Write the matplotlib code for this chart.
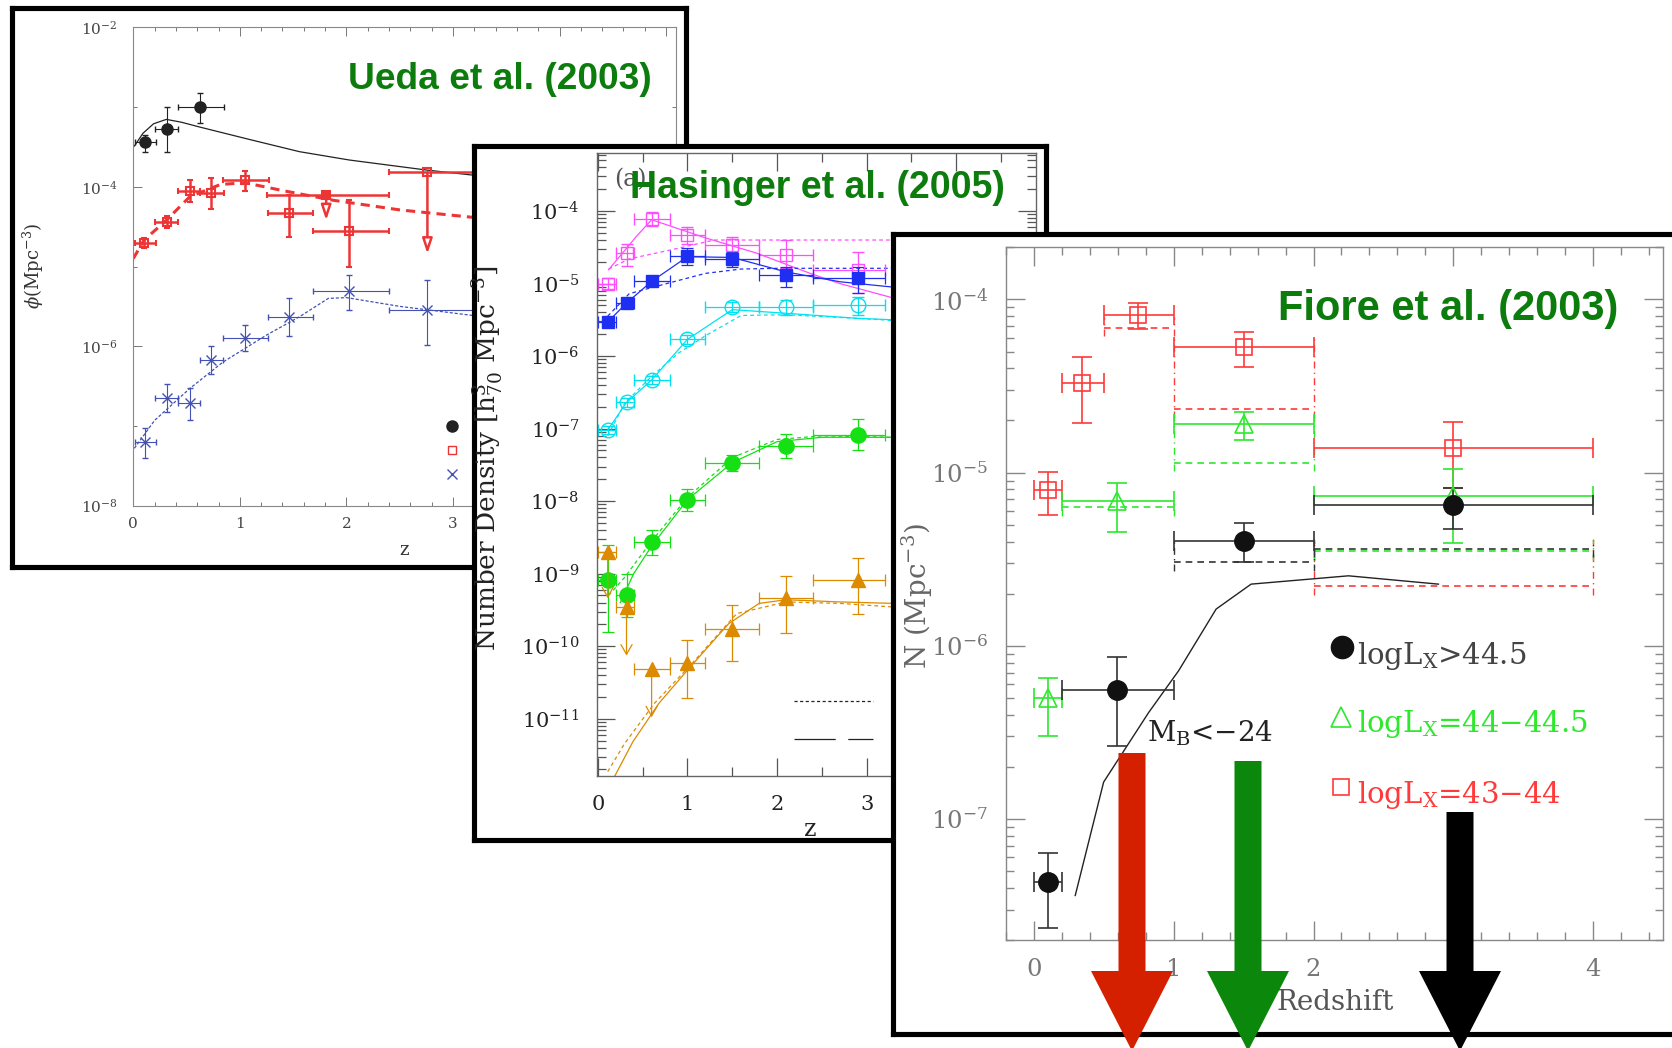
import numpy as np
import matplotlib
matplotlib.use('Agg')
import matplotlib.pyplot as plt
from matplotlib.ticker import FixedLocator, NullFormatter, MultipleLocator, LogLocator
from matplotlib.patches import FancyArrow

W, H = 1672, 1048
plt.rcParams['font.family'] = 'DejaVu Serif'
plt.rcParams['mathtext.fontset'] = 'dejavuserif'

# ---------------- Ueda et al. (2003) ----------------
u_hi_z = [0.11, 0.32, 0.63]
u_hi_zlo = [0.02, 0.20, 0.42]
u_hi_zhi = [0.21, 0.42, 0.85]
u_hi_lg = [-3.435, -3.27, -3.00]
u_hi_lo = [-3.57, -3.56, -3.20]
u_hi_up = [-3.35, -3.00, -2.82]

u_mid_z = [0.10, 0.32, 0.53, 0.73, 1.05, 1.465, 2.02]
u_mid_zlo = [0.02, 0.20, 0.42, 0.63, 0.84, 1.26, 1.69]
u_mid_zhi = [0.21, 0.42, 0.63, 0.85, 1.27, 1.69, 2.40]
u_mid_lg = [-4.71, -4.44, -4.05, -4.075, -3.92, -4.33, -4.55]
u_mid_lo = [-4.77, -4.515, -4.19, -4.28, -4.05, -4.635, -5.00]
u_mid_up = [-4.645, -4.37, -3.915, -3.89, -3.80, -4.10, -4.17]

u_lim_z = [1.81, 2.76]
u_lim_zlo = [1.25, 2.40]
u_lim_zhi = [2.40, 3.20]
u_lim_lg = [-4.10, -3.82]
u_lim_to = [-4.42, -4.84]
u_lim_filled = [True, False]

u_lo_z = [0.113, 0.32, 0.53, 0.73, 1.05, 1.465, 2.02, 2.76]
u_lo_zlo = [0.02, 0.20, 0.42, 0.63, 0.84, 1.26, 1.69, 2.40]
u_lo_zhi = [0.21, 0.42, 0.63, 0.84, 1.26, 1.69, 2.40, 3.20]
u_lo_lg = [-7.207, -6.65, -6.71, -6.17, -5.90, -5.63, -5.31, -5.55]
u_lo_lo = [-7.40, -6.82, -6.92, -6.35, -6.06, -5.87, -5.54, -5.99]
u_lo_up = [-7.03, -6.475, -6.53, -6.00, -5.735, -5.40, -5.11, -5.17]

u_hi_curve_z = [0.01, 0.09, 0.19, 0.31, 0.45, 0.62, 1.10, 1.56, 2.03, 2.75, 3.16, 3.40]
u_hi_curve_lg = [-3.49, -3.33, -3.21, -3.155, -3.19, -3.25, -3.41, -3.56, -3.665, -3.79, -3.85, -3.88]
u_mid_curve_z = [0.0, 0.10, 0.31, 0.53, 0.82, 1.05, 1.41, 1.88, 2.50, 3.16, 3.40]
u_mid_curve_lg = [-4.90, -4.67, -4.42, -4.125, -3.97, -3.95, -4.05, -4.17, -4.29, -4.38, -4.41]
u_lo_curve_z = [0.01, 0.20, 0.53, 0.84, 1.25, 1.56, 1.83, 2.00, 2.50, 3.16, 3.40]
u_lo_curve_lg = [-7.28, -6.93, -6.53, -6.20, -5.86, -5.63, -5.40, -5.39, -5.50, -5.61, -5.64]

# ---------------- Hasinger et al. (2005) ----------------
h_z = [0.11, 0.32, 0.60, 1.00, 1.50, 2.10, 2.90]
h_zlo = [0.0, 0.2, 0.4, 0.8, 1.2, 1.8, 2.4]
h_zhi = [0.2, 0.4, 0.8, 1.2, 1.8, 2.4, 3.2]

h_mag_lg = [-5.00, -4.58, -4.11, -4.33, -4.47, -4.61, -4.81]
h_mag_lo = [-5.07, -4.76, -4.21, -4.455, -4.585, -4.79, -5.135]
h_mag_up = [-4.93, -4.45, -4.01, -4.225, -4.355, -4.40, -4.56]
h_blu_lg = [-5.53, -5.27, -4.97, -4.62, -4.66, -4.88, -4.92]
h_blu_lo = [-5.58, -5.32, -5.02, -4.745, -4.77, -5.044, -5.136]
h_blu_up = [-5.48, -5.22, -4.92, -4.515, -4.56, -4.77, -4.77]
h_cyn_lg = [-7.02, -6.64, -6.33, -5.77, -5.32, -5.32, -5.30]
h_cyn_lo = [-7.08, -6.70, -6.39, -5.83, -5.39, -5.434, -5.434]
h_cyn_up = [-6.96, -6.58, -6.27, -5.71, -5.25, -5.228, -5.18]
h_grn_lg = [-9.09, -9.30, -8.57, -7.98, -7.47, -7.24, -7.09]
h_grn_lo = [-9.80, -9.60, -8.74, -8.13, -7.58, -7.40, -7.30]
h_grn_up = [-8.60, -9.00, -8.40, -7.83, -7.36, -7.07, -6.87]

h_org_z = [1.00, 1.50, 2.10, 2.90]
h_org_zlo = [0.8, 1.2, 1.8, 2.4]
h_org_zhi = [1.2, 1.8, 2.4, 3.2]
h_org_lg = [-10.23, -9.76, -9.34, -9.09]
h_org_lo = [-10.71, -10.21, -9.82, -9.56]
h_org_up = [-9.92, -9.43, -9.03, -8.78]
h_orglim_z = [0.11, 0.32, 0.60]
h_orglim_zlo = [0.0, 0.2, 0.4]
h_orglim_zhi = [0.2, 0.4, 0.8]
h_orglim_lg = [-8.70, -9.46, -10.32]
h_orglim_to = [-9.34, -10.13, -10.98]

h_mag_solid_z = [0.12, 0.43, 0.60, 1.20, 1.77, 2.37, 2.70, 3.30]
h_mag_solid_lg = [-4.81, -4.35, -4.12, -4.37, -4.58, -4.86, -5.00, -5.20]
h_mag_dash_z = [0.12, 0.35, 0.80, 1.30, 1.80, 2.40, 3.30]
h_mag_dash_lg = [-4.80, -4.66, -4.54, -4.40, -4.40, -4.40, -4.40]
h_blu_solid_z = [0.11, 0.32, 0.60, 1.00, 1.50, 2.10, 2.70, 3.30]
h_blu_solid_lg = [-5.53, -5.27, -4.97, -4.63, -4.64, -4.84, -4.975, -5.05]
h_blu_dash_z = [0.11, 0.35, 0.80, 1.20, 1.60, 2.00, 3.30]
h_blu_dash_lg = [-5.45, -5.14, -4.99, -4.86, -4.80, -4.79, -4.79]
h_cyn_solid_z = [0.11, 0.32, 0.60, 1.00, 1.50, 2.10, 2.90, 3.30]
h_cyn_solid_lg = [-7.02, -6.64, -6.33, -5.77, -5.36, -5.41, -5.48, -5.50]
h_cyn_dash_z = [0.11, 0.30, 0.60, 0.90, 1.20, 1.60, 2.10, 2.90, 3.30]
h_cyn_dash_lg = [-7.10, -6.65, -6.28, -5.96, -5.72, -5.44, -5.43, -5.48, -5.51]
h_grn_solid_z = [0.25, 0.40, 0.60, 1.00, 1.50, 2.00, 2.50, 3.30]
h_grn_solid_lg = [-9.40, -9.00, -8.62, -7.98, -7.47, -7.18, -7.12, -7.12]
h_grn_dash_z = [0.12, 0.30, 0.60, 1.00, 1.50, 2.00, 2.50, 3.30]
h_grn_dash_lg = [-9.30, -9.05, -8.55, -7.95, -7.40, -7.15, -7.10, -7.12]
h_org_solid_z = [0.185, 0.39, 0.68, 1.00, 1.46, 1.80, 2.10, 2.70, 3.30]
h_org_solid_lg = [-11.80, -11.32, -10.79, -10.33, -9.69, -9.41, -9.36, -9.39, -9.41]
h_org_dash_z = [0.11, 0.30, 0.63, 1.05, 1.55, 2.10, 2.70, 3.30]
h_org_dash_lg = [-11.73, -11.34, -10.79, -10.24, -9.55, -9.39, -9.41, -9.46]

# ---------------- Fiore et al. (2003) ----------------
f_red_z = [0.10, 0.347, 0.743, 1.50, 3.00]
f_red_zlo = [0.0, 0.2, 0.5, 1.0, 2.0]
f_red_zhi = [0.2, 0.5, 1.0, 2.0, 4.0]
f_red_lg = [-5.10, -4.485, -4.092, -4.273, -4.856]
f_red_lo = [-5.246, -4.715, -4.17, -4.388, -5.087]
f_red_up = [-4.994, -4.333, -4.02, -4.187, -4.708]

f_grn_z = [0.10, 0.597, 1.50, 3.00]
f_grn_zlo = [0.0, 0.2, 1.0, 2.0]
f_grn_zhi = [0.2, 1.0, 2.0, 4.0]
f_grn_lg = [-6.304, -5.163, -4.721, -5.135]
f_grn_lo = [-6.519, -5.342, -4.81, -5.408]
f_grn_up = [-6.188, -5.06, -4.65, -4.977]

f_blk_z = [0.10, 0.597, 1.50, 3.00]
f_blk_zlo = [0.0, 0.2, 1.0, 2.0]
f_blk_zhi = [0.2, 1.0, 2.0, 4.0]
f_blk_lg = [-7.362, -6.254, -5.394, -5.188]
f_blk_lo = [-7.631, -6.58, -5.519, -5.327]
f_blk_up = [-7.198, -6.065, -5.292, -5.087]

# dashed model boxes: bin low, bin high, level, top of side lines
f_red_mod_lo = [0.5, 1.0, 2.0]
f_red_mod_hi = [1.0, 2.0, 4.0]
f_red_mod_lg = [-4.163, -4.635, -5.654]
f_red_mod_top = [-4.10, -4.21, -5.39]
f_grn_mod_lo = [0.2, 1.0, 2.0]
f_grn_mod_hi = [1.0, 2.0, 4.0]
f_grn_mod_lg = [-5.198, -4.942, -5.452]
f_grn_mod_top = [-5.16, -4.645, -5.385]
f_blk_mod_lo = [1.0, 2.0]
f_blk_mod_hi = [2.0, 4.0]
f_blk_mod_lg = [-5.519, -5.44]
f_blk_mod_top = [-5.39, -5.39]

f_qso_z = [0.297, 0.50, 0.822, 1.036, 1.304, 1.554, 2.25, 2.893]
f_qso_lg = [-7.442, -6.787, -6.385, -6.144, -5.788, -5.644, -5.596, -5.644]

TITLE_GREEN = '#0c7c0c'

fig = plt.figure(figsize=(W / 100, H / 100), dpi=100)


def rect(x0, y0, x1, y1):
    return [x0 / W, 1 - y1 / H, (x1 - x0) / W, (y1 - y0) / H]


def fp(x, y):
    return x / W, 1 - y / H


def box(x0, y0, x1, y1):
    b = fig.add_axes(rect(x0, y0, x1, y1))
    b.set_xticks([])
    b.set_yticks([])
    b.set_facecolor('white')
    for s in b.spines.values():
        s.set_linewidth(3.7)
        s.set_color('black')
    return b


def errbars(ax, z, zlo, zhi, lg, lo, up, **kw):
    z = np.asarray(z)
    v = 10 ** np.asarray(lg)
    xerr = [z - np.asarray(zlo), np.asarray(zhi) - z]
    yerr = [v - 10 ** np.asarray(lo), 10 ** np.asarray(up) - v]
    return ax.errorbar(z, v, xerr=xerr, yerr=yerr, linestyle='none', **kw)


def curve(ax, z, lg, **kw):
    ax.plot(z, 10 ** np.asarray(lg), **kw)


def style_axes(ax, spine_col, lw):
    for s in ax.spines.values():
        s.set_color(spine_col)
        s.set_linewidth(lw)


# ===== panel 1: Ueda =====
box(11.5, 7.5, 686, 566.5)
ax1 = fig.add_axes(rect(133.3, 27.3, 675.7, 505.7))
ax1.set_yscale('log')
ax1.set_xlim(0, 5.09)
ax1.set_ylim(1e-8, 1e-2)
ax1.set_yticks([1e-8, 1e-6, 1e-4, 1e-2],
               ['$10^{-8}$', '$10^{-6}$', '$10^{-4}$', '$10^{-2}$'])
ax1.yaxis.set_minor_locator(FixedLocator([1e-7, 1e-5, 1e-3]))
ax1.yaxis.set_minor_formatter(NullFormatter())
ax1.set_xticks([0, 1, 2, 3, 4, 5], ['0', '1', '2', '3', '', ''])
ax1.xaxis.set_minor_locator(MultipleLocator(0.2))
ax1.tick_params(which='both', direction='in', top=True, right=True,
                color='#777', labelcolor='#444', labelsize=11, width=0.7)
ax1.tick_params(which='major', length=6.5)
ax1.tick_params(which='minor', length=3)
ax1.tick_params(axis='x', pad=8)
ax1.tick_params(axis='y', pad=11.5)
style_axes(ax1, '#888', 0.8)

U_RED = '#ee3535'
U_BLUE = '#4352b4'
curve(ax1, u_hi_curve_z, u_hi_curve_lg, color='#222', lw=0.9)
curve(ax1, u_mid_curve_z, u_mid_curve_lg, color=U_RED, lw=2.2, dashes=(3, 2))
curve(ax1, u_lo_curve_z, u_lo_curve_lg, color=U_BLUE, lw=0.9, dashes=(2.5, 1.5))
errbars(ax1, u_hi_z, u_hi_zlo, u_hi_zhi, u_hi_lg, u_hi_lo, u_hi_up,
        fmt='o', color='#222', ms=8, elinewidth=0.8, capsize=2.5)
errbars(ax1, u_mid_z, u_mid_zlo, u_mid_zhi, u_mid_lg, u_mid_lo, u_mid_up,
        fmt='s', color=U_RED, mfc='none', mew=1.5, ms=6, elinewidth=1.8, capsize=2.5, capthick=1.8)
errbars(ax1, u_lo_z, u_lo_zlo, u_lo_zhi, u_lo_lg, u_lo_lo, u_lo_up,
        fmt='x', color=U_BLUE, ms=7, mew=1.0, elinewidth=0.8, capsize=2.5)
for z, zl, zh, lg, to, filled in zip(u_lim_z, u_lim_zlo, u_lim_zhi, u_lim_lg, u_lim_to, u_lim_filled):
    ax1.errorbar([z], [10 ** lg], xerr=[[z - zl], [zh - z]], fmt='s', color=U_RED,
                 mfc=U_RED if filled else 'none', mew=1.5, ms=6, elinewidth=1.8,
                 capsize=2.5, capthick=1.8)
    ax1.annotate('', xy=(z, 10 ** to), xytext=(z, 10 ** lg),
                 arrowprops=dict(arrowstyle='-|>,head_length=0.9,head_width=0.3',
                                 ec=U_RED, fc='white', lw=1.8, shrinkA=0, shrinkB=0))
# legend symbols (their labels lie under the next panel)
ax1.plot([0.588], [0.167], 'o', color='#222', ms=8, transform=ax1.transAxes)
ax1.plot([0.588], [0.116], 's', color=U_RED, mfc='none', ms=6, mew=1, transform=ax1.transAxes)
ax1.plot([0.588], [0.066], 'x', color=U_BLUE, ms=7, mew=1, transform=ax1.transAxes)

fig.text(*fp(33, 266), r'$\phi$(Mpc$^{-3}$)', rotation=90, ha='center', va='center',
         fontsize=13, color='#333')
fig.text(*fp(404, 550), 'z', ha='center', va='center', fontsize=13, color='#333')

# ===== panel 2: Hasinger =====
box(474, 146, 1045.5, 839.5)
ax2 = fig.add_axes(rect(596.5, 152.7, 1036, 776))
ax2.set_yscale('log')
ax2.set_xlim(-0.015, 4.89)
ax2.set_ylim(10 ** -11.79, 10 ** -3.196)
h_dec = [-11, -10, -9, -8, -7, -6, -5, -4]
ax2.set_yticks([10.0 ** d for d in h_dec], ['$10^{%d}$' % d for d in h_dec])
ax2.yaxis.set_minor_locator(LogLocator(base=10, subs=np.arange(2, 10), numticks=100))
ax2.yaxis.set_minor_formatter(NullFormatter())
ax2.set_xticks([0, 1, 2, 3, 4], ['0', '1', '2', '3', ''])
ax2.xaxis.set_minor_locator(MultipleLocator(0.5))
ax2.tick_params(which='both', direction='in', top=True, right=True,
                color='#555', labelcolor='#222', labelsize=15, width=0.9)
ax2.tick_params(which='major', length=13)
ax2.tick_params(which='minor', length=6.5)
ax2.tick_params(axis='x', pad=13.5)
ax2.tick_params(axis='y', pad=12)
style_axes(ax2, '#666', 1.0)

H_MAG, H_BLU, H_CYN, H_GRN, H_ORG = '#ff4dff', '#1f2ff2', '#00e2f0', '#14e014', '#dc8a00'
hd = (3, 2.5)
curve(ax2, h_mag_solid_z, h_mag_solid_lg, color=H_MAG, lw=0.9)
curve(ax2, h_mag_dash_z, h_mag_dash_lg, color=H_MAG, lw=0.9, dashes=hd)
curve(ax2, h_blu_solid_z, h_blu_solid_lg, color=H_BLU, lw=0.9)
curve(ax2, h_blu_dash_z, h_blu_dash_lg, color=H_BLU, lw=0.9, dashes=hd)
curve(ax2, h_cyn_solid_z, h_cyn_solid_lg, color=H_CYN, lw=0.9)
curve(ax2, h_cyn_dash_z, h_cyn_dash_lg, color=H_CYN, lw=0.9, dashes=hd)
curve(ax2, h_grn_solid_z, h_grn_solid_lg, color=H_GRN, lw=0.9)
curve(ax2, h_grn_dash_z, h_grn_dash_lg, color=H_GRN, lw=0.9, dashes=hd)
curve(ax2, h_org_solid_z, h_org_solid_lg, color=H_ORG, lw=0.9)
curve(ax2, h_org_dash_z, h_org_dash_lg, color=H_ORG, lw=0.9, dashes=hd)

hk = dict(elinewidth=0.9, capsize=4.5, capthick=0.9)
errbars(ax2, h_z, h_zlo, h_zhi, h_mag_lg, h_mag_lo, h_mag_up,
        fmt='s', color=H_MAG, mfc='none', ms=9, mew=1.0, **hk)
errbars(ax2, h_z, h_zlo, h_zhi, h_blu_lg, h_blu_lo, h_blu_up,
        fmt='s', color=H_BLU, ms=9, **hk)
errbars(ax2, h_z, h_zlo, h_zhi, h_cyn_lg, h_cyn_lo, h_cyn_up,
        fmt='o', color=H_CYN, mfc='none', ms=10.5, mew=1.0, **hk)
errbars(ax2, h_z, h_zlo, h_zhi, h_grn_lg, h_grn_lo, h_grn_up,
        fmt='o', color=H_GRN, ms=11, **hk)
errbars(ax2, h_org_z, h_org_zlo, h_org_zhi, h_org_lg, h_org_lo, h_org_up,
        fmt='^', color=H_ORG, ms=10.5, **hk)
for z, zl, zh, lg, to in zip(h_orglim_z, h_orglim_zlo, h_orglim_zhi, h_orglim_lg, h_orglim_to):
    ax2.errorbar([z], [10 ** lg], xerr=[[z - zl], [zh - z]], fmt='^', color=H_ORG, ms=10.5, **hk)
    ax2.annotate('', xy=(z, 10 ** to), xytext=(z, 10 ** lg),
                 arrowprops=dict(arrowstyle='->,head_length=0.7,head_width=0.4',
                                 color=H_ORG, lw=0.9, shrinkA=0, shrinkB=0))
# legend line samples (their labels lie under the next panel)
ax2.plot([0.449, 0.63], [0.121, 0.121], color='#222', lw=0.9, dashes=(2.5, 2),
         transform=ax2.transAxes)
ax2.plot([0.449, 0.63], [0.060, 0.060], color='#222', lw=0.9, dashes=(33, 10),
         transform=ax2.transAxes)

fig.text(*fp(488, 458), r'Number Density [h$^{3}_{70}$ Mpc$^{-3}$]', rotation=90,
         ha='center', va='center', fontsize=19, color='#222')
fig.text(*fp(810, 829), 'z', ha='center', va='center', fontsize=17, color='#222')
fig.text(*fp(614, 186), '(a)', ha='left', va='baseline', fontsize=17, color='#555')

# ===== panel 3: Fiore =====
box(893, 234, 1690, 1033.5)
ax3 = fig.add_axes(rect(1005.7, 247.3, 1663.3, 940))
ax3.set_yscale('log')
ax3.set_xlim(-0.2, 4.5)
ax3.set_ylim(2e-8, 2e-4)
f_dec = [-7, -6, -5, -4]
ax3.set_yticks([10.0 ** d for d in f_dec], ['$10^{%d}$' % d for d in f_dec])
ax3.yaxis.set_minor_locator(LogLocator(base=10, subs=np.arange(2, 10), numticks=100))
ax3.yaxis.set_minor_formatter(NullFormatter())
ax3.set_xticks([0, 1, 2, 3, 4])
ax3.xaxis.set_minor_locator(MultipleLocator(0.2))
ax3.tick_params(which='both', direction='in', top=True, right=True,
                color='#888', labelcolor='#777', labelsize=17.5, width=1.0)
ax3.tick_params(which='major', length=13.5)
ax3.tick_params(which='minor', length=6)
ax3.tick_params(axis='x', pad=13)
ax3.tick_params(axis='y', pad=12.5)
style_axes(ax3, '#888', 1.0)

F_RED, F_GRN, F_BLK = '#ff3a3a', '#2ee82e', '#111111'


def model_boxes(ax, lo, hi, lg, top, color):
    for a, b, m, t in zip(lo, hi, lg, top):
        ax.hlines(10 ** m, a, b, colors=color, lw=1.2, linestyles=(0, (4, 3)))
        ax.vlines([a, b], 10 ** (m - 0.05), 10 ** t, colors=color, lw=1.0,
                  linestyles=(0, (5, 3, 1, 3)))


model_boxes(ax3, f_red_mod_lo, f_red_mod_hi, f_red_mod_lg, f_red_mod_top, F_RED)
model_boxes(ax3, f_grn_mod_lo, f_grn_mod_hi, f_grn_mod_lg, f_grn_mod_top, F_GRN)
model_boxes(ax3, f_blk_mod_lo, f_blk_mod_hi, f_blk_mod_lg, f_blk_mod_top, '#333')
curve(ax3, f_qso_z, f_qso_lg, color='#222', lw=1.0)

fk = dict(elinewidth=1.2, capsize=7.5, capthick=1.2)
errbars(ax3, f_red_z, f_red_zlo, f_red_zhi, f_red_lg, f_red_lo, f_red_up,
        fmt='s', color=F_RED, mfc='none', ms=11.5, mew=1.2, **fk)
errbars(ax3, f_grn_z, f_grn_zlo, f_grn_zhi, f_grn_lg, f_grn_lo, f_grn_up,
        fmt='^', color=F_GRN, mfc='none', ms=13, mew=1.2, **fk)
errbars(ax3, f_blk_z, f_blk_zlo, f_blk_zhi, f_blk_lg, f_blk_lo, f_blk_up,
        fmt='o', color=F_BLK, ecolor='#333', ms=14, **fk)

# legend
ax3.plot(*fp(1341.5, 646.5), 'o', color=F_BLK, ms=16, transform=fig.transFigure, clip_on=False)
ax3.plot(*fp(1341.0, 716.5), '^', color=F_GRN, mfc='none', mew=1.2, ms=14,
         transform=fig.transFigure, clip_on=False)
ax3.plot(*fp(1341.0, 786.5), 's', color=F_RED, mfc='none', mew=1.2, ms=12,
         transform=fig.transFigure, clip_on=False)
fig.text(*fp(1356.7, 664.3), r'$\mathrm{logL_X}$>44.5', fontsize=21, color='#444',
         ha='left', va='baseline')
fig.text(*fp(1356.7, 731.7), r'$\mathrm{logL_X}$=44$-$44.5', fontsize=21, color=F_GRN,
         ha='left', va='baseline')
fig.text(*fp(1356.7, 802.7), r'$\mathrm{logL_X}$=43$-$44', fontsize=21, color=F_RED,
         ha='left', va='baseline')
fig.text(*fp(1147, 742), r'M$_\mathrm{B}$<$-$24', fontsize=20, color='#222',
         ha='left', va='baseline')

fig.text(*fp(917, 596), r'N (Mpc$^{-3}$)', rotation=90, ha='center', va='center',
         fontsize=20, color='#666')
fig.text(*fp(1335, 1003), 'Redshift', ha='center', va='center', fontsize=20, color='#555')

# ===== titles =====
tk = dict(family='Liberation Sans', weight='bold', color=TITLE_GREEN, ha='left', va='baseline')
fig.text(*fp(348, 89), 'Ueda et al. (2003)', fontsize=26.7, **tk)
fig.text(*fp(630, 198), 'Hasinger et al. (2005)', fontsize=27, **tk)
fig.text(*fp(1278, 320), 'Fiore et al. (2003)', fontsize=30, **tk)

# ===== big arrows on top =====
over = fig.add_axes([0, 0, 1, 1], zorder=10)
over.set_xlim(0, W)
over.set_ylim(H, 0)
over.axis('off')
for xc, ytop, col in [(1132, 753, '#d52000'), (1248, 761, '#0b870b'), (1460, 812, '#000000')]:
    over.add_patch(FancyArrow(xc, ytop, 0, H + 3 - ytop, width=27, head_width=82,
                              head_length=80, length_includes_head=True,
                              color=col, lw=0))

fig.savefig('out.png', dpi=100)
